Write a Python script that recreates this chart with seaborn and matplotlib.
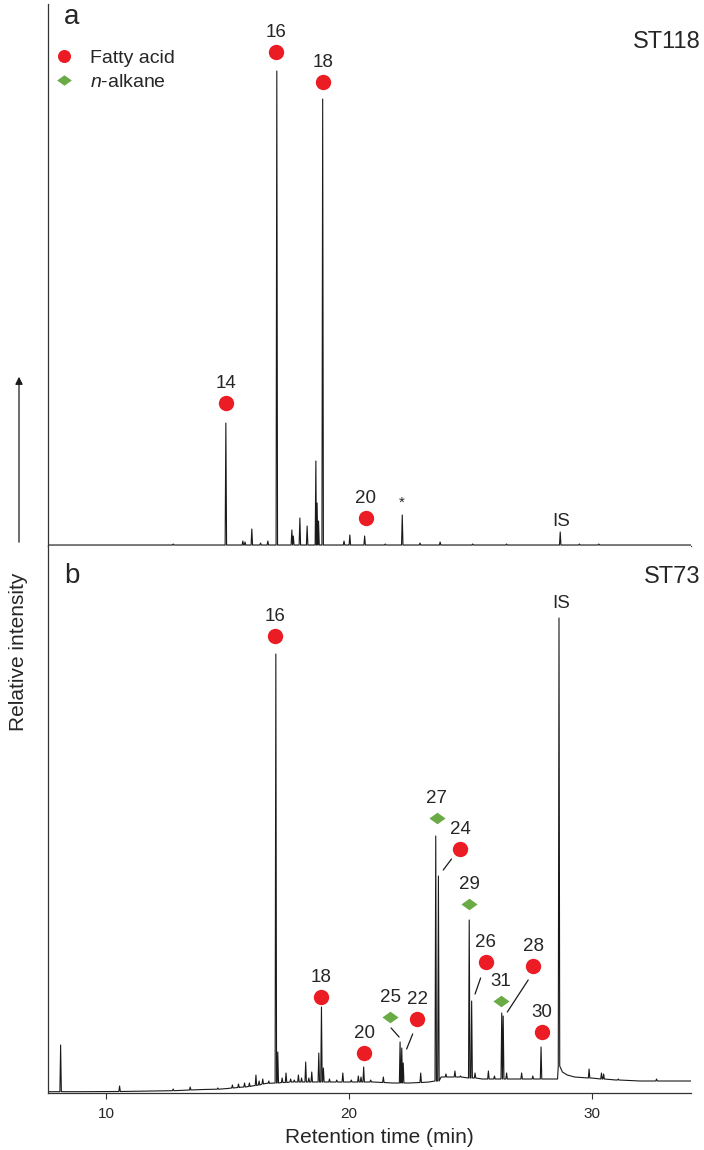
import numpy as np
import pandas as pd
import matplotlib
matplotlib.use('Agg')
import matplotlib.pyplot as plt
import seaborn as sns
from matplotlib.lines import Line2D
from matplotlib.patches import FancyArrowPatch

RED = '#ec1c24'
GREEN = '#6aab46'
# flat diamond used for the n-alkane markers
DIAMOND = [(-1, 0), (0, 0.72), (1, 0), (0, -0.72), (-1, 0)]

# ---- panel a: ST118 (signal in arbitrary units above baseline) ----
a_base_rt = [7.6, 12.0, 20.0, 26.0, 34.1]
a_base_lv = [1, 1, 1, 1, 1]
a_peak_rt = [12.76, 14.93, 15.63, 15.72, 16.00, 16.36, 16.66, 17.03, 17.65, 17.71,
             17.98, 18.28, 18.64, 18.69, 18.75, 18.92, 19.80, 20.04, 20.65, 21.50,
             22.20, 22.93, 23.76, 25.10, 26.50, 28.71, 29.50, 30.30]
a_peak_top = [2, 123, 5, 4, 17, 3, 5, 475, 16, 10,
              28, 20, 85, 43, 25, 447, 5, 11, 10, 2,
              31, 3, 4, 2, 2, 14, 2, 2]
a_peak_foot = [1, 1, 1, 1, 1, 1, 1, 1, 1, 1,
               1, 1, 1, 1, 1, 1, 1, 1, 1, 1,
               1, 1, 1, 1, 1, 1, 1, 1]

a_lab = ['14', '16', '18', '20']
a_lab_rt = [14.94, 17.00, 18.94, 20.70]
a_lab_y = [143, 494, 464, 28]
a_lab_kind = ['Fatty acid', 'Fatty acid', 'Fatty acid', 'Fatty acid']

# ---- panel b: ST73 ----
b_base_rt = [7.6, 9.0, 12.0, 13.0, 14.0, 15.0, 15.5, 16.0, 16.6, 17.2, 18.0, 19.0,
             20.0, 21.0, 21.8, 22.5, 23.3, 23.8, 24.5, 25.0, 25.5, 26.2, 27.0, 28.0,
             28.6, 28.8, 29.0, 29.3, 30.0, 31.0, 32.0, 33.0, 34.1]
b_base_lv = [1.3, 1.3, 2, 2.5, 3.5, 4.5, 5.7, 7, 9.7, 10.5, 11, 11,
             11, 11, 10, 10, 11, 16, 16, 15, 14, 14, 14, 14,
             14, 21, 18, 16, 15, 13, 12, 12, 12]
b_peak_rt = [8.12, 10.55, 12.76, 13.46, 14.60, 15.20, 15.45, 15.70, 15.90, 16.17,
             16.30, 16.45, 16.70, 16.99, 17.07, 17.25, 17.41, 17.60, 17.75, 17.92,
             18.05, 18.22, 18.35, 18.47, 18.76, 18.87, 18.95, 19.20, 19.50, 19.75,
             20.10, 20.39, 20.50, 20.61, 20.90, 21.42, 22.11, 22.18, 22.24, 22.96,
             23.58, 23.69, 24.00, 24.37, 24.60, 24.96, 25.06, 25.20, 25.75, 26.00,
             26.30, 26.36, 26.50, 27.12, 27.58, 27.92, 28.66, 29.90, 30.41, 30.50,
             31.10, 32.68]
b_peak_top = [48, 7, 4, 6, 5, 8, 9, 10, 10, 18,
              12, 14, 12, 439, 41, 15, 20, 14, 13, 18,
              15, 31, 15, 21, 40, 86, 25, 14, 13, 20,
              13, 17, 16, 26, 13, 16, 51, 45, 30, 20,
              257, 217, 19, 22, 17, 173, 92, 20, 22, 17,
              80, 77, 20, 20, 17, 46, 475, 24, 20, 19,
              14, 14]
b_peak_foot = [1.3, 1.5, 2.3, 3, 3.8, 5, 5.5, 6, 6.5, 7.5,
               8, 9, 9.7, 10, 10, 10.5, 10.5, 11, 11, 11,
               11, 11, 11, 11, 11, 11, 11, 11, 11, 11,
               11, 11, 11, 11, 11, 10.5, 10, 10, 10, 10.5,
               12, 12, 16, 16, 16, 15, 15, 15, 14, 14,
               14, 14, 14, 14, 14, 14, 27, 15, 14, 14,
               13, 12]

b_lab = ['16', '27', '24', '29', '26', '18', '25', '22', '20', '31', '28', '30']
b_lab_rt = [16.96, 23.62, 24.58, 24.95, 25.65, 18.86, 21.70, 22.82, 20.63, 26.25, 27.60, 27.94]
b_lab_y = [457, 275, 244, 189, 131, 96, 76, 74, 40, 92, 127, 61]
b_lab_kind = ['Fatty acid', 'n-alkane', 'Fatty acid', 'n-alkane', 'Fatty acid', 'Fatty acid',
              'n-alkane', 'Fatty acid', 'Fatty acid', 'n-alkane', 'Fatty acid', 'Fatty acid']

# leader lines from labels to their peaks (panel b)
lead_x0 = [24.23, 25.43, 21.74, 22.63, 27.39]
lead_y0 = [234, 115, 65, 59, 113]
lead_x1 = [23.89, 25.20, 22.07, 22.38, 26.53]
lead_y1 = [223, 99, 56, 44, 81]


def build_trace(base_rt, base_lv, pk_rt, pk_top, pk_foot, hw=0.03):
    t = list(base_rt)
    y = list(base_lv)
    for rt, top, foot in zip(pk_rt, pk_top, pk_foot):
        t += [rt - hw, rt, rt + hw]
        y += [foot, top, foot]
    return pd.DataFrame({'rt': t, 'signal': y}).sort_values('rt')


def draw_labels(ax, labels, rts, ys, kinds):
    df = pd.DataFrame({'rt': rts, 'y': ys, 'kind': kinds, 'label': labels})
    fa = df[df['kind'] == 'Fatty acid']
    al = df[df['kind'] == 'n-alkane']
    sns.scatterplot(data=fa, x='rt', y='y', color=RED, marker='o', s=122,
                    linewidth=0, ax=ax, legend=False, zorder=5)
    if len(al):
        sns.scatterplot(data=al, x='rt', y='y', color=GREEN, marker=DIAMOND, s=135,
                        linewidth=0, ax=ax, legend=False, zorder=5)
    for _, r in df.iterrows():
        ax.text(r['rt'], r['y'] + 19.5, r['label'], ha='center', va='center', fontsize=13.5)


sns.set_style('white')
plt.rcParams['font.family'] = ['Liberation Sans', 'DejaVu Sans']
plt.rcParams['mathtext.fontset'] = 'custom'
plt.rcParams['mathtext.it'] = 'Liberation Sans:italic'
plt.rcParams['mathtext.rm'] = 'Liberation Sans'

W, H = 704, 1150
fig = plt.figure(figsize=(W / 100, H / 100), dpi=100)
ax_a = fig.add_axes([48 / W, 1 - 546 / H, 643 / W, 542 / H])
ax_b = fig.add_axes([48 / W, 1 - 1093 / H, 643 / W, 547 / H])

trace_a = build_trace(a_base_rt, a_base_lv, a_peak_rt, a_peak_top, a_peak_foot)
trace_b = build_trace(b_base_rt, b_base_lv, b_peak_rt, b_peak_top, b_peak_foot)

for ax, tr in [(ax_a, trace_a), (ax_b, trace_b)]:
    sns.lineplot(data=tr, x='rt', y='signal', estimator=None, sort=False,
                 color='#1a1a1a', lw=0.8, ax=ax)
    ax.set_xlim(7.6, 34.1)
    ax.set_xticks([10, 20, 30])
    ax.set_yticks([])
    ax.set_ylabel('')
    for side in ['top', 'right']:
        ax.spines[side].set_visible(False)
    for side in ['left', 'bottom']:
        ax.spines[side].set_color('#333333')
        ax.spines[side].set_linewidth(0.9)
    ax.tick_params(axis='x', direction='out', length=4, width=0.8, color='#333333',
                   labelsize=11, pad=6, bottom=True)

ax_a.set_ylim(0, 542)
ax_b.set_ylim(0, 547)
ax_a.tick_params(labelbottom=False)
ax_a.set_xlabel('')

# panel a annotations
draw_labels(ax_a, a_lab, a_lab_rt, a_lab_y, a_lab_kind)
ax_a.text(22.19, 43, '*', ha='center', va='center', fontsize=11)
ax_a.text(28.74, 25, 'IS', ha='center', va='center', fontsize=13.5)
ax_a.text(0.037, 0.976, 'a', transform=ax_a.transAxes, ha='center', va='center', fontsize=20)
ax_a.text(1.0156, 0.93, 'ST118', transform=ax_a.transAxes, ha='right', va='center', fontsize=17)

handles = [Line2D([], [], ls='none', marker='o', markersize=9.4, markerfacecolor=RED,
                  markeredgewidth=0),
           Line2D([], [], ls='none', marker=DIAMOND, markersize=10.5, markerfacecolor=GREEN,
                  markeredgewidth=0)]
ax_a.legend(handles, ['Fatty acid', r'$\mathit{n}$-alkane'], loc='upper left',
            bbox_to_anchor=(0.0098, 0.917), frameon=False, fontsize=14, borderpad=0,
            borderaxespad=0, handlelength=1.0, handletextpad=0.84, labelspacing=0.36)

# panel b annotations
draw_labels(ax_b, b_lab, b_lab_rt, b_lab_y, b_lab_kind)
for x0, y0, x1, y1 in zip(lead_x0, lead_y0, lead_x1, lead_y1):
    ax_b.plot([x0, x1], [y0, y1], color='#1a1a1a', lw=0.9)
ax_b.text(28.74, 490, 'IS', ha='center', va='center', fontsize=13.5)
ax_b.text(0.037, 0.945, 'b', transform=ax_b.transAxes, ha='center', va='center', fontsize=20)
ax_b.text(1.014, 0.943, 'ST73', transform=ax_b.transAxes, ha='right', va='center', fontsize=17)

ax_b.set_xlabel('Retention time (min)', fontsize=15)
ax_b.xaxis.set_label_coords(0.516, -0.064)

fig.text(19 / W, 1 - 652 / H, 'Relative intensity', rotation=90, ha='center', va='center',
         fontsize=15)
fig.add_artist(FancyArrowPatch((19 / W, 1 - 545 / H), (19 / W, 1 - 374 / H),
                               transform=fig.transFigure, arrowstyle='-|>',
                               mutation_scale=11, lw=0.9, color='#1a1a1a'))

fig.savefig('out.png', dpi=100)
